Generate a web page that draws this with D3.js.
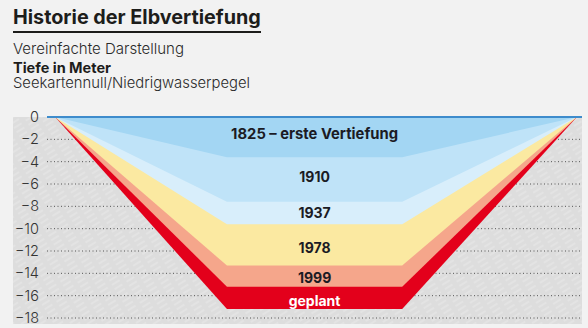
<!DOCTYPE html>
<html>
<head>
<meta charset="utf-8">
<script src="https://cdn.jsdelivr.net/npm/d3@7/dist/d3.min.js"></script>
<style>
  html, body { margin: 0; padding: 0; background: #f2f2f2; }
  svg { display: block; font-family: Inter, Lato, "Noto Sans", sans-serif; }
</style>
</head>
<body>
<svg id="chart" width="588" height="328"></svg>
<script>
// ---- data ----
const layerNames = ["geplant", "1999", "1978", "1937", "1910", "1825 – erste Vertiefung"];
const layerDepths = [17.2, 15.2, 13.3, 9.6, 7.6, 3.6];
const yTicks = [0, -2, -4, -6, -8, -10, -12, -14, -16, -18];
// cross-section profile (relative width units): surface-left, bottom-left, bottom-right, surface-right
const profileX = [74, 376, 684, 991];

// ---- styles ----
const layerColors = ["#e3001b", "#f5a68b", "#fbe9a1", "#d8eefb", "#bfe3f8", "#a3d6f3"];
const labelColors = ["#ffffff", "#1b1b24", "#1b1b24", "#1b1b24", "#1b1b24", "#1b1b24"];
const labelShift = [3, 2, 3, 0, -3, 1];

const svg = d3.select("#chart");
const defs = svg.append("defs");
const pat = defs.append("pattern")
  .attr("id", "hatch").attr("patternUnits", "userSpaceOnUse")
  .attr("width", 14).attr("height", 5)
  .attr("patternTransform", "rotate(-32)");
pat.append("rect").attr("width", 14).attr("height", 5).attr("fill", "#dddddd");
pat.append("line").attr("x1", 0).attr("y1", 1).attr("x2", 9).attr("y2", 1)
  .attr("stroke", "#ffffff").attr("stroke-opacity", 0.45).attr("stroke-width", 0.8);

const x = d3.scaleLinear().domain([0, 1000]).range([13, 582]);
const y = d3.scaleLinear().domain([0, -18]).range([117, 318]);

// fit text to a target width by adjusting font size
function fit(sel, w) {
  const len = sel.node().getComputedTextLength();
  const fs = parseFloat(sel.attr("font-size"));
  sel.attr("font-size", (fs * w / len).toFixed(2));
  return sel;
}

// Title block
fit(svg.append("text").attr("x", 13).attr("y", 24)
  .attr("font-size", 19).attr("font-weight", 700).attr("fill", "#1d1d1b")
  .text("Historie der Elbvertiefung"), 248);
svg.append("rect").attr("x", 13).attr("y", 31).attr("width", 248).attr("height", 2).attr("fill", "#1d1d1b");
fit(svg.append("text").attr("x", 13).attr("y", 54)
  .attr("font-size", 14).attr("font-weight", 300).attr("fill", "#2a2a2a")
  .text("Vereinfachte Darstellung"), 171);
fit(svg.append("text").attr("x", 13).attr("y", 72.5)
  .attr("font-size", 14).attr("font-weight", 700).attr("fill", "#1d1d1b")
  .text("Tiefe in Meter"), 98);
fit(svg.append("text").attr("x", 13).attr("y", 88)
  .attr("font-size", 14).attr("font-weight", 300).attr("fill", "#2a2a2a")
  .text("Seekartennull/Niedrigwasserpegel"), 237);

// land
svg.append("rect").attr("x", x(0)).attr("y", y(0))
  .attr("width", x(1000) - x(0)).attr("height", 324 - y(0))
  .attr("fill", "url(#hatch)");

// gridlines + axis
const axis = d3.axisLeft(y).tickValues(yTicks)
  .tickFormat(d => d === 0 ? "0" : "\u2212" + Math.abs(d))
  .tickSize(0).tickPadding(0);
const gAxis = svg.append("g").attr("transform", "translate(39,0)").call(axis);
gAxis.select(".domain").remove();
gAxis.selectAll("text").attr("font-size", 14.5).attr("font-weight", 300)
  .attr("fill", "#333").attr("font-family", "Inter, Lato, 'Noto Sans', sans-serif");

svg.append("g").selectAll("line").data(yTicks.slice(1)).join("line")
  .attr("x1", 47).attr("x2", 582)
  .attr("y1", d => y(d)).attr("y2", d => y(d))
  .attr("stroke", "#555").attr("stroke-width", 1).attr("stroke-dasharray", "1,2.5");

// water layers, deepest first
const poly = d => [
  [x(profileX[0]), y(0)],
  [x(profileX[1]), y(-d)],
  [x(profileX[2]), y(-d)],
  [x(profileX[3]), y(0)]
];
svg.append("g").selectAll("path").data(layerDepths).join("path")
  .attr("d", d => d3.line()(poly(d)) + "Z")
  .attr("fill", (d, i) => layerColors[i]);

// surface line
svg.append("line").attr("x1", 47).attr("x2", 582).attr("y1", y(0)).attr("y2", y(0))
  .attr("stroke", "#3e8ccc").attr("stroke-width", 2);

// labels
const cx = x((profileX[1] + profileX[2]) / 2);
const labelDepth = layerDepths.map((d, i) => {
  const top = i < layerDepths.length - 1 ? layerDepths[i + 1] : 0;
  return i === layerDepths.length - 1 ? d * 0.38 : (d + top) / 2;
});
const labels = svg.append("g").selectAll("text").data(layerNames).join("text")
  .attr("x", cx).attr("y", (d, i) => y(-labelDepth[i]) + labelShift[i])
  .attr("dy", "0.36em").attr("text-anchor", "middle")
  .attr("font-size", 14).attr("font-weight", 700)
  .attr("fill", (d, i) => labelColors[i])
  .text(d => d);
fit(labels.filter((d, i) => i === layerNames.length - 1), 167);
</script>
</body>
</html>
